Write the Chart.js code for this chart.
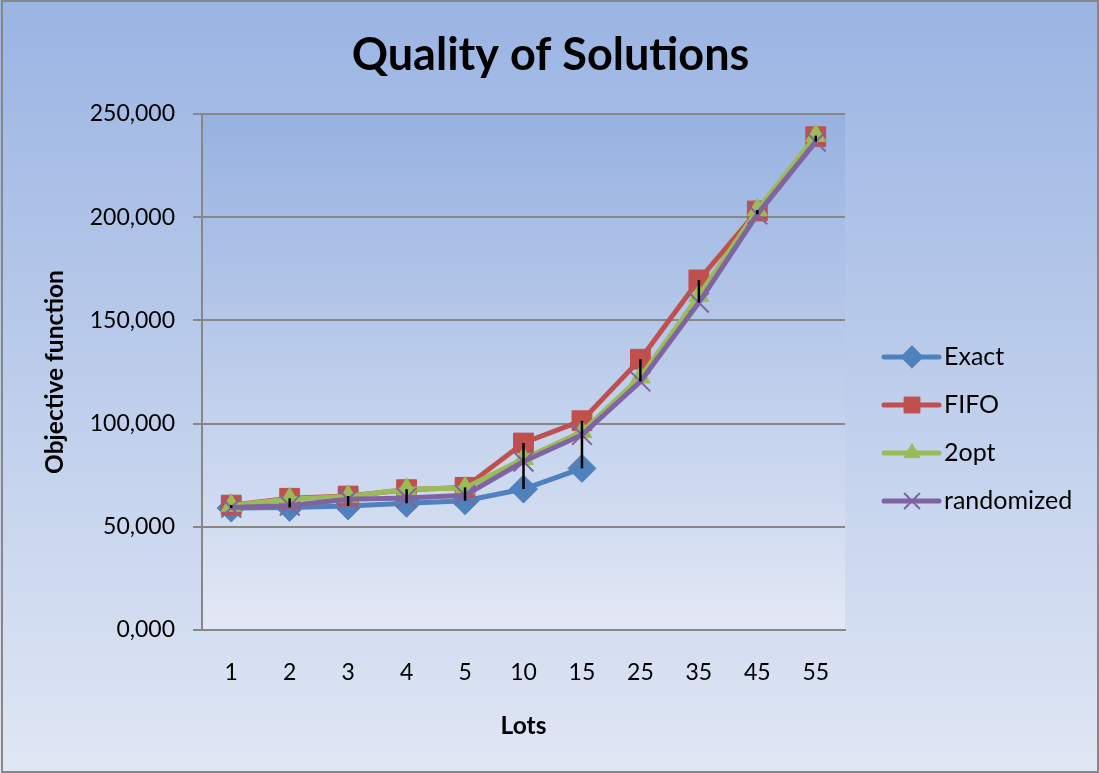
<!DOCTYPE html>
<html>
<head>
<meta charset="utf-8">
<title>Quality of Solutions</title>
<script src="https://cdn.jsdelivr.net/npm/chart.js"></script>
<style>
  html, body { margin: 0; padding: 0; background: #fff; }
  #wrap { width: 1099px; height: 773px; }
</style>
</head>
<body>
<div id="wrap"><canvas id="chart" width="1099" height="773"></canvas></div>
<script>
// values
const lots = ['1', '2', '3', '4', '5', '10', '15', '25', '35', '45', '55'];
const exact = [59100, 59400, 60100, 61400, 62600, 68300, 78300, null, null, null, null];
const fifo = [60500, 63800, 64900, 68000, 69100, 90600, 101400, 131200, 169600, 203000, 239000];
const twoOpt = [60300, 63500, 64700, 68200, 68800, 83000, 96000, 122500, 162000, 203500, 239500];
const randomized = [59300, 60300, 63300, 64000, 65300, 81600, 94500, 120400, 158600, 201400, 236600];
const yTickLabels = ['0,000', '50,000', '100,000', '150,000', '200,000', '250,000'];
const chartTitle = 'Quality of Solutions';

const gridGray = '#878787';

// gradient backgrounds + outer frame
const backdrop = {
    id: 'backdrop',
    beforeDraw(chart) {
        const { ctx, width, height, chartArea: a } = chart;
        ctx.save();
        let g = ctx.createLinearGradient(0, 0, 0, height);
        g.addColorStop(0, '#9ab4e3');
        g.addColorStop(1, '#e0e7f4');
        ctx.fillStyle = g;
        ctx.fillRect(0, 0, width, height);

        g = ctx.createLinearGradient(0, a.top, 0, a.bottom);
        g.addColorStop(0, '#97b2e1');
        g.addColorStop(1, '#e2e8f5');
        ctx.fillStyle = g;
        ctx.fillRect(a.left, a.top, a.right - a.left, a.bottom - a.top);

        ctx.strokeStyle = gridGray;
        ctx.lineWidth = 2;
        ctx.strokeRect(2, 1, width - 3, height - 2);

        // title centred on the whole chart, not only the plot
        ctx.fillStyle = '#000';
        ctx.font = 'bold 45px Lato';
        ctx.textAlign = 'center';
        ctx.textBaseline = 'middle';
        ctx.fillText(chartTitle, width / 2 + 1, 55);
        ctx.restore();
    }
};

// black high-low lines between the top and bottom series at each category
const highLow = {
    id: 'highLow',
    afterDatasetsDraw(chart) {
        const { ctx, scales: { x, y } } = chart;
        const sets = chart.data.datasets.map(d => d.data);
        ctx.save();
        ctx.strokeStyle = '#000';
        ctx.lineWidth = 2.5;
        lots.forEach((_, i) => {
            const vals = sets.map(s => s[i]).filter(v => v != null);
            if (vals.length < 2) return;
            const px = x.getPixelForValue(i);
            ctx.beginPath();
            ctx.moveTo(px, y.getPixelForValue(Math.max(...vals)));
            ctx.lineTo(px, y.getPixelForValue(Math.min(...vals)));
            ctx.stroke();
        });
        ctx.restore();
    }
};

// Excel-like legend: line sample with marker in the middle
const sideLegend = {
    id: 'sideLegend',
    afterDraw(chart) {
        const { ctx, chartArea } = chart;
        const x0 = chartArea.right + 39;
        let yy = chartArea.top + 243;
        ctx.save();
        ctx.font = '25px Lato';
        ctx.textBaseline = 'middle';
        chart.data.datasets.forEach(ds => {
            ctx.strokeStyle = ds.borderColor;
            ctx.lineWidth = 5;
            ctx.lineCap = 'round';
            ctx.beginPath();
            ctx.moveTo(x0, yy);
            ctx.lineTo(x0 + 55, yy);
            ctx.stroke();

            ctx.fillStyle = ds.pointBackgroundColor;
            ctx.strokeStyle = ds.pointBorderColor;
            ctx.lineWidth = ds.pointBorderWidth;
            ctx.lineCap = 'butt';
            Chart.helpers.drawPoint(ctx, {
                pointStyle: ds.pointStyle,
                radius: ds.pointRadius * 0.8,
                rotation: 0,
                borderWidth: ds.pointBorderWidth
            }, x0 + 28, yy);

            ctx.fillStyle = '#000';
            ctx.fillText(ds.label, x0 + 60, yy);
            yy += 48;
        });
        ctx.restore();
    }
};

const series = (label, data, color, style, radius, order) => ({
    label,
    data,
    order,
    borderColor: color,
    borderWidth: 5,
    pointStyle: style,
    pointRadius: radius,
    pointBackgroundColor: color,
    pointBorderColor: color,
    pointBorderWidth: style === 'crossRot' ? 2 : 1,
    tension: 0,
    spanGaps: false
});

Chart.defaults.font.family = 'Lato';
Chart.defaults.color = '#000';

new Chart(document.getElementById('chart'), {
    type: 'line',
    data: {
        labels: lots,
        datasets: [
            series('Exact', exact, '#4f81bd', 'rectRot', 14, 3),
            series('FIFO', fifo, '#c0504d', 'rect', 14, 2),
            series('2opt', twoOpt, '#9bbb59', 'triangle', 11.5, 1),
            series('randomized', randomized, '#8064a2', 'crossRot', 14, 0)
        ]
    },
    options: {
        responsive: false,
        animation: false,
        devicePixelRatio: 1,
        layout: { padding: { left: 3, right: 254, top: 114, bottom: 3 } },
        plugins: {
            legend: { display: false },
            tooltip: { enabled: false },
            title: { display: false }
        },
        scales: {
            x: {
                offset: true,
                grid: { display: false },
                border: { display: true, color: gridGray, width: 2 },
                ticks: { font: { size: 23 }, padding: 21 },
                title: {
                    display: true,
                    text: 'Lots',
                    font: { size: 24.5, weight: 'bold' },
                    padding: { top: 0, bottom: 29 }
                },
                afterFit: s => { s.height = 140; }
            },
            y: {
                min: 0,
                max: 250000,
                ticks: {
                    stepSize: 50000,
                    font: { size: 23 },
                    padding: 18,
                    callback: (v, i) => yTickLabels[i]
                },
                grid: { color: gridGray, lineWidth: 2, tickLength: 9 },
                border: { display: true, color: gridGray, width: 2 },
                title: {
                    display: true,
                    text: 'Objective function',
                    font: { size: 24.5, weight: 'bold' },
                    padding: { top: 37, bottom: 0 }
                },
                afterFit: s => { s.width = 199; }
            }
        }
    },
    plugins: [backdrop, highLow, sideLegend]
});
</script>
</body>
</html>
